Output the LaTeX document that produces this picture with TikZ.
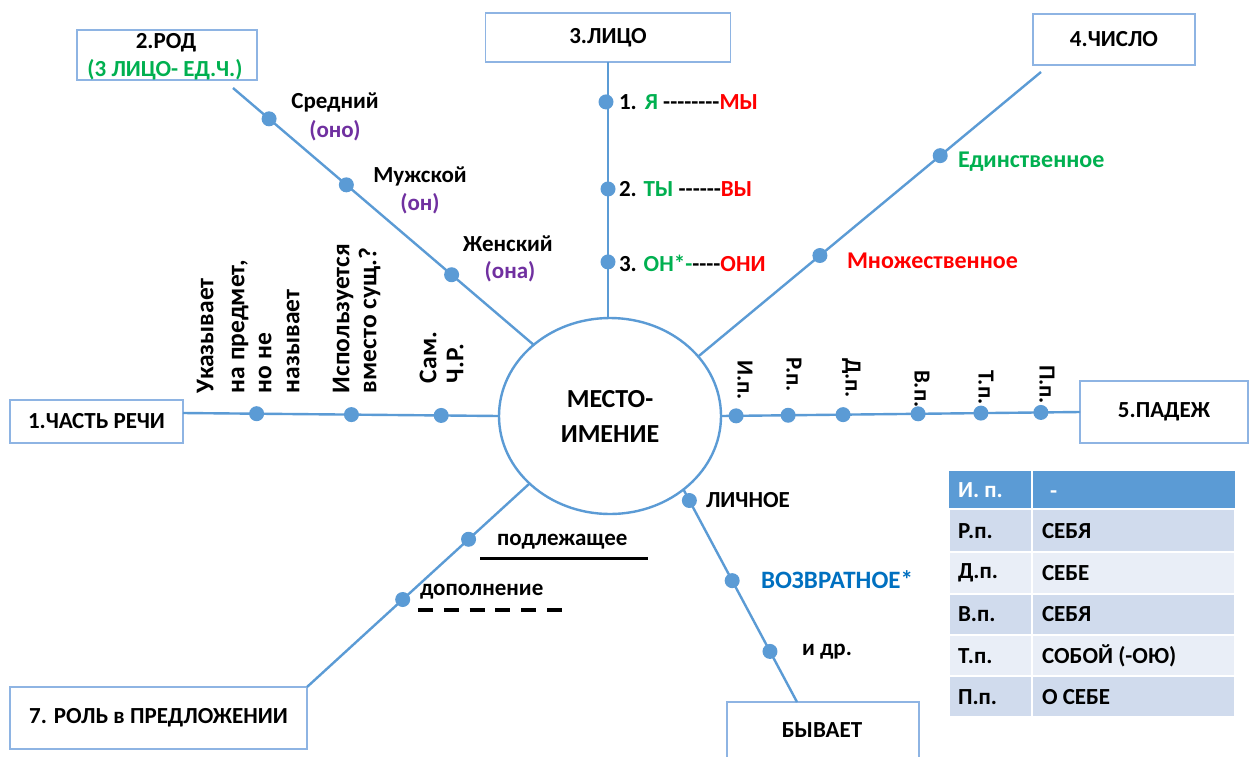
\documentclass[tikz,border=0pt]{standalone}
\usepackage{fontspec}
\setmainfont{Carlito}
\usetikzlibrary{shapes.geometric}
\definecolor{lb}{HTML}{5B9BD5}
\definecolor{bb}{HTML}{8EB4E3}
\definecolor{gr}{HTML}{00B050}
\definecolor{rd}{HTML}{FF0000}
\definecolor{pu}{HTML}{7030A0}
\definecolor{bl}{HTML}{0070C0}
\definecolor{thd}{HTML}{5B9BD5}
\definecolor{tdk}{HTML}{D0DBED}
\definecolor{tlt}{HTML}{E9EEF7}
\newcommand\hy{\mbox{-}}
\begin{document}
\begin{tikzpicture}[x=1pt,y=-1pt,
 txt/.style={font=\fontsize{23}{28}\selectfont\bfseries, inner sep=0pt, outer sep=0pt},
 btxt/.style={font=\fontsize{24}{28}\selectfont\bfseries, inner sep=0pt, outer sep=0pt},
 box/.style={draw=bb, line width=1.4pt, inner sep=0pt, outer sep=0pt, txt},
 ln/.style={draw=lb, line width=2.4pt},
 dot/.style={circle, fill=lb, inner sep=0pt, minimum size=15pt},
 lw/.style={txt, anchor=west},
 rl/.style={font=\fontsize{25.5}{28}\selectfont\bfseries, inner sep=0pt, outer sep=0pt, rotate=90, anchor=mid west},
 rr/.style={txt, rotate=-90, anchor=mid west},
 cell/.style={draw=white, line width=2pt}]
\useasboundingbox[fill=white] (0,0) rectangle (1250,756);
\clip (0,0) rectangle (1250,756);

% central ellipse
\node[ellipse, draw=lb, line width=2.4pt, minimum width=222pt, minimum height=196pt,
  inner sep=0pt, outer sep=0pt, align=center, font=\fontsize{26}{35}\selectfont\bfseries] (ell) at (610,416) {МЕСТО-\\ИМЕНИЕ};

% boxes
\node[box, minimum width=180pt, minimum height=50pt] (rod) at (167,55) {};
\node[txt] (rodt) at (166,43) {2.РОД};
\node[txt, text=gr] (rods) at (165,70) {(3 ЛИЦО- ЕД.Ч.)};
\node[box, minimum width=245pt, minimum height=49pt] (lico) at (608,37.5) {3.ЛИЦО};
\node[box, minimum width=162pt, minimum height=51pt] (chislo) at (1114,39.5) {4.ЧИСЛО};
\node[box, minimum width=173pt, minimum height=43pt] (chast) at (96.5,421.5) {1.ЧАСТЬ РЕЧИ};
\node[box, minimum width=168pt, minimum height=62pt] (padezh) at (1164,412) {5.ПАДЕЖ};
\node[box, minimum width=297pt, minimum height=62pt] (rol) at (158.5,718) {7. РОЛЬ в ПРЕДЛОЖЕНИИ};
\node[box, minimum width=192pt, minimum height=68pt] (byv) at (823,736) {};
\node[txt] (byvt) at (822,730) {БЫВАЕТ};

% free line ends
\coordinate (rodL) at (233,88);
\coordinate (chisL) at (1041,72);
\coordinate (chastR) at (183,413);
\coordinate (byvT) at (797,702);

% connectors with dots
\draw[ln] (rodL) -- (ell.137.7)
  node[dot,pos=0.12] (d1) {} node[dot,pos=0.377] (d2) {} node[dot,pos=0.727] (d3) {};
\draw[ln] (lico.south) -- (lico.south |- ell.north)
  node[dot,pos=0.156,xshift=-2pt] (l1) {} node[dot,pos=0.496] (l2) {} node[dot,pos=0.781] (l3) {};
\draw[ln] (chisL) -- (ell.34.5)
  node[dot,pos=0.294] (c1) {} node[dot,pos=0.645] (c2) {};
\draw[ln] (chastR) -- (ell.west)
  node[dot,pos=0.233] (p1) {} node[dot,pos=0.533] (p2) {} node[dot,pos=0.817] (p3) {};
\draw[ln] (ell.east) -- (padezh.west)
  node[dot,pos=0.042] (k1) {} node[dot,pos=0.187] (k2) {} node[dot,pos=0.340] (k3) {}
  node[dot,pos=0.549] (k4) {} node[dot,pos=0.724] (k5) {} node[dot,pos=0.891] (k6) {};
\draw[ln] (rol.north east) -- (ell.220.8)
  node[dot,pos=0.43] (r1) {} node[dot,pos=0.726] (r2) {};
\draw[ln] (byvT) -- (ell.315.4)
  node[dot,pos=0.238] (b1) {} node[dot,pos=0.571] (b2) {} node[dot,pos=0.948] (b3) {};

% gender labels
\node[txt] (sr) at (335,102) {Средний};
\node[txt, text=pu] (sro) at (335,131) {(оно)};
\node[txt] (mu) at (420,176) {Мужской};
\node[txt, text=pu] (muo) at (420,204) {(он)};
\node[txt] (zh) at (508,244) {Женский};
\node[txt, text=pu] (zho) at (510,272) {(она)};

% person labels
\node[lw] (li1) at (619,102) {1.\hspace{8pt}{\color{gr}Я} \hy\hy\hy\hy\hy\hy\hy\hy{\color{rd}МЫ}};
\node[lw] (li2) at (619,189) {2. {\color{gr}ТЫ} \hy\hy\hy\hy\hy\hy{\color{rd}ВЫ}};
\node[lw] (li3) at (619,263) {3. {\color{gr}ОН*\hy}\hy\hy\hy\hy{\color{rd}ОНИ}};

% number labels
\node[btxt, anchor=west, text=gr] (ed) at (958,162) {Единственное};
\node[btxt, anchor=west, text=rd] (mn) at (847,261) {Множественное};

% part of speech labels
\node[rl] at (211,393) {Указывает};
\node[rl] at (242,393) {на предмет,};
\node[rl] at (269,393) {но не};
\node[rl] at (297,393) {называет};
\node[rl] at (347,393) {Используется};
\node[rl] at (374,393) {вместо сущ.?};
\node[rl] at (434,383) {Сам.};
\node[rl] at (461,383) {Ч.Р.};

% case labels
\node[rr] at (740,360) {И.п.};
\node[rr] at (789,357) {Р.п.};
\node[rr] at (848,358) {Д.п.};
\node[rr] at (917,370) {В.п.};
\node[rr] at (981,370) {Т.п.};
\node[rr] at (1042,365) {П.п.};

% kind labels
\node[lw] (lich) at (706,500) {ЛИЧНОЕ};
\node[font=\fontsize{25}{28}\selectfont\bfseries, inner sep=0pt, anchor=west, text=bl] (vozv) at (761,580) {ВОЗВРАТНОЕ*};
\node[lw] (idr) at (802,652) {и др.};

% role labels
\node[lw] (podl) at (497,542) {подлежащее};
\coordinate (u1a) at (480,558); \coordinate (u1b) at (648,558);
\draw[line width=3pt] (u1a) -- (u1b);
\node[lw] (dop) at (420,592) {дополнение};
\coordinate (u2a) at (418,610); \coordinate (u2b) at (562,610);
\draw[line width=3.5pt, dash pattern=on 15pt off 10.8pt] (u2a) -- (u2b);

% table
\fill[thd] (949,471) rectangle (1235,509);
\draw[cell] (1032,471) -- (1032,509);
\filldraw[cell, fill=tdk] (949,509) rectangle (1032,552); \filldraw[cell, fill=tdk] (1032,509) rectangle (1235,552);
\filldraw[cell, fill=tlt] (949,552) rectangle (1032,594); \filldraw[cell, fill=tlt] (1032,552) rectangle (1235,594);
\filldraw[cell, fill=tdk] (949,594) rectangle (1032,635); \filldraw[cell, fill=tdk] (1032,594) rectangle (1235,635);
\filldraw[cell, fill=tlt] (949,635) rectangle (1032,676); \filldraw[cell, fill=tlt] (1032,635) rectangle (1235,676);
\filldraw[cell, fill=tdk] (949,676) rectangle (1032,717); \filldraw[cell, fill=tdk] (1032,676) rectangle (1235,717);
\node[lw, text=white] at (958,490) {И. п.};
\node[lw, text=white] at (1050,495) {-};
\node[lw] at (958,531) {Р.п.};   \node[lw] at (1042,531) {СЕБЯ};
\node[lw] at (958,573) {Д.п.};   \node[lw] at (1042,573) {СЕБЕ};
\node[lw] at (958,614) {В.п.};   \node[lw] at (1042,614) {СЕБЯ};
\node[lw] at (958,656) {Т.п.};   \node[lw] at (1042,656) {СОБОЙ (-ОЮ)};
\node[lw] at (958,697) {П.п.};   \node[lw] at (1042,697) {О СЕБЕ};
\end{tikzpicture}
\end{document}
